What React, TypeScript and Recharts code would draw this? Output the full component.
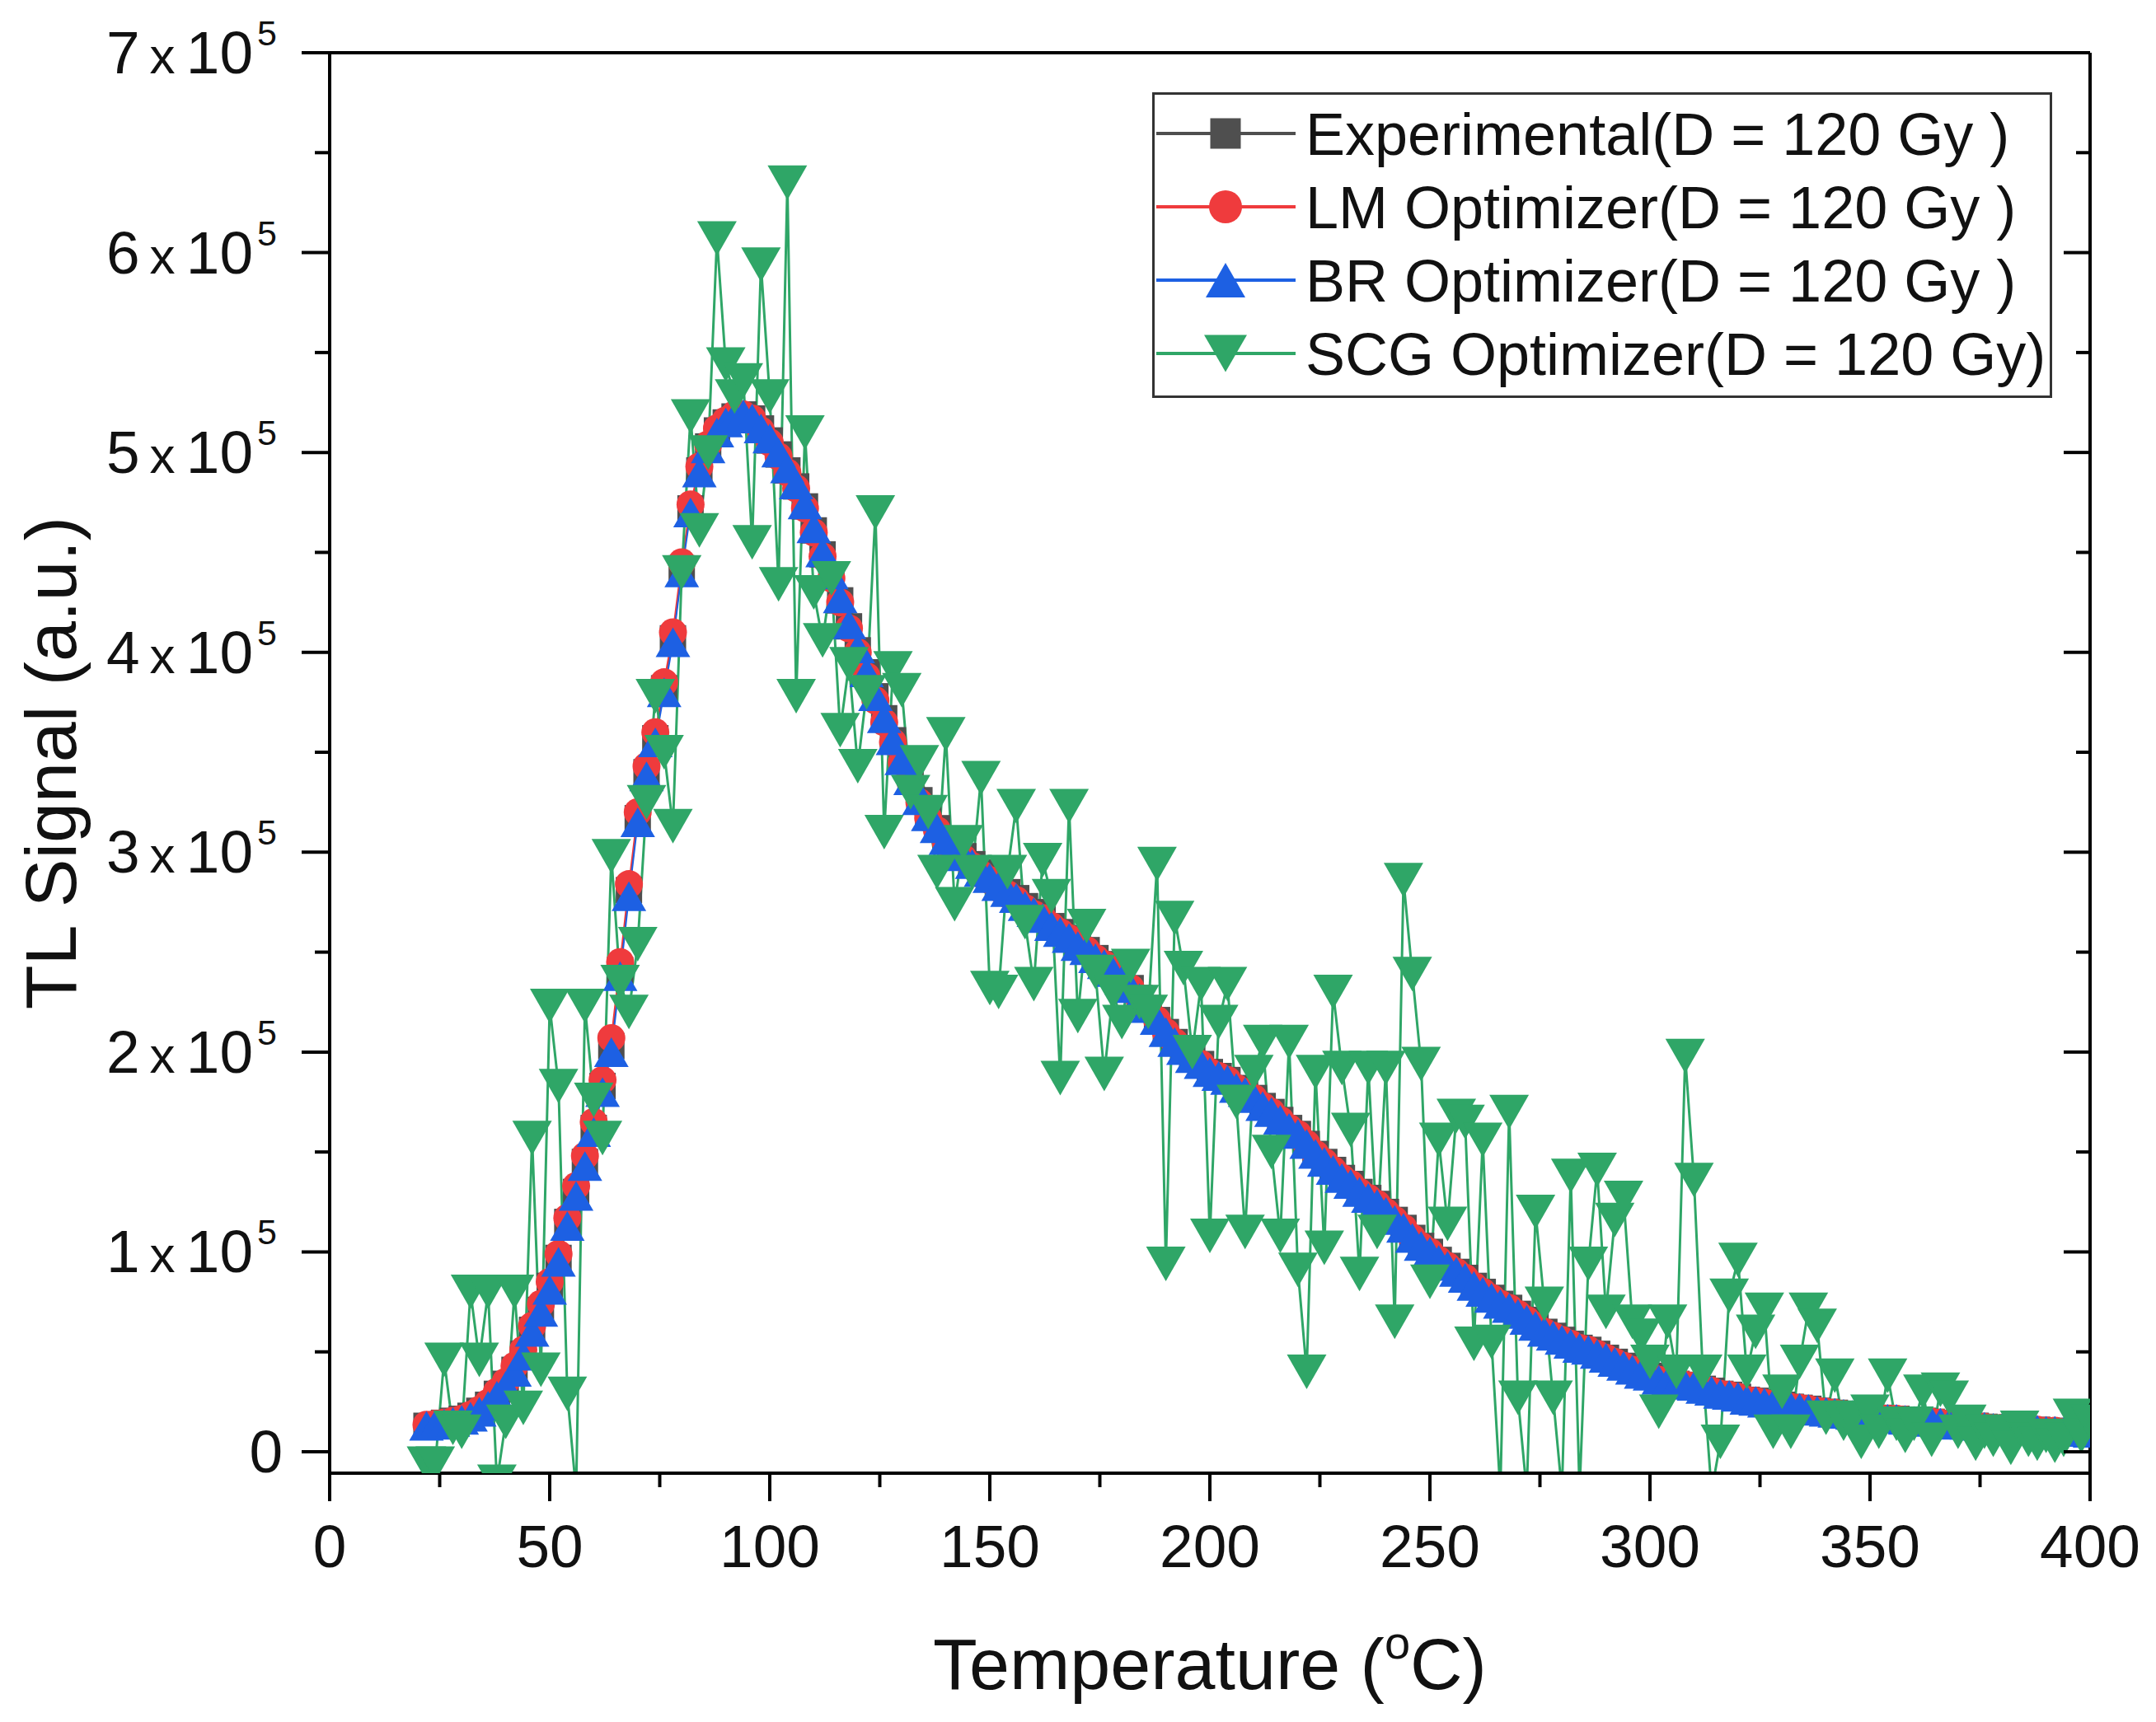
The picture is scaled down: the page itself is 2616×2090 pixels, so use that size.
import { LineChart, Line, XAxis, YAxis, Legend, Label } from "recharts"

const FONT = "'Liberation Sans', Arial, Helvetica, sans-serif"

// temperature grid (°C), shared by all four series
const temperature = [
  22, 24, 26, 28, 30, 32, 34, 36, 38, 40,
  42, 44, 46, 48, 50, 52, 54, 56, 58, 60,
  62, 64, 66, 68, 70, 72, 74, 76, 78, 80,
  82, 84, 86, 88, 90, 92, 94, 96, 98, 100,
  102, 104, 106, 108, 110, 112, 114, 116, 118, 120,
  122, 124, 126, 128, 130, 132, 134, 136, 138, 140,
  142, 144, 146, 148, 150, 152, 154, 156, 158, 160,
  162, 164, 166, 168, 170, 172, 174, 176, 178, 180,
  182, 184, 186, 188, 190, 192, 194, 196, 198, 200,
  202, 204, 206, 208, 210, 212, 214, 216, 218, 220,
  222, 224, 226, 228, 230, 232, 234, 236, 238, 240,
  242, 244, 246, 248, 250, 252, 254, 256, 258, 260,
  262, 264, 266, 268, 270, 272, 274, 276, 278, 280,
  282, 284, 286, 288, 290, 292, 294, 296, 298, 300,
  302, 304, 306, 308, 310, 312, 314, 316, 318, 320,
  322, 324, 326, 328, 330, 332, 334, 336, 338, 340,
  342, 344, 346, 348, 350, 352, 354, 356, 358, 360,
  362, 364, 366, 368, 370, 372, 374, 376, 378, 380,
  382, 384, 386, 388, 390, 392, 394, 396, 398, 400,
]

const experimental = [
  13000, 13500, 14500, 15500, 16500, 18000, 20500, 23500, 29000, 34000,
  41000, 49000, 61000, 71000, 83000, 97000, 115000, 130000, 145000, 162000,
  183000, 203000, 241000, 281000, 317000, 340000, 357000, 382000, 407000, 442000,
  472000, 491000, 503000, 511000, 515000, 518000, 519000, 517000, 512000, 506000,
  499000, 491000, 483000, 473000, 461000, 449000, 438000, 426000, 413000, 401000,
  390000, 378000, 367000, 356000, 346000, 336000, 326000, 318000, 312000, 306000,
  302000, 298000, 294000, 290000, 287000, 283000, 280000, 277000, 273000, 270000,
  267000, 263000, 260000, 257000, 253000, 251000, 247000, 244000, 240000, 236000,
  232000, 227000, 222000, 216000, 210000, 205000, 201000, 197000, 194000, 190000,
  188000, 186000, 182000, 180000, 177000, 173000, 170000, 166000, 162000, 159000,
  154000, 149000, 145000, 141000, 137000, 134000, 130000, 127000, 124000, 120000,
  116000, 112000, 107000, 103000, 100000, 96000, 93000, 90000, 87000, 83000,
  80000, 77000, 74000, 72000, 69000, 66000, 63000, 60000, 58000, 56000,
  54000, 52000, 51000, 49000, 47000, 45000, 43000, 41000, 39000, 38000,
  36000, 35000, 34000, 33500, 33000, 31500, 30500, 29000, 28500, 27500,
  26000, 25500, 24500, 24000, 23500, 22500, 22000, 21500, 20500, 20000,
  19500, 19000, 18500, 18000, 17500, 17000, 16500, 16500, 16000, 15500,
  15500, 15000, 14500, 14000, 13500, 13500, 13000, 12500, 12000, 12000,
  11500, 11500, 11000, 11000, 10500, 10500, 10000, 10000, 10000, 9500,
]

const lmOptimizer = [
  13500, 14000, 14500, 15500, 16500, 18500, 21000, 24500, 30000, 35000,
  43000, 51000, 63000, 74000, 85000, 99000, 117000, 133000, 148000, 165000,
  186000, 207000, 245000, 284000, 320000, 343000, 360000, 385000, 410000, 445000,
  474000, 493000, 504000, 512000, 516000, 519000, 519000, 517000, 511000, 505000,
  498000, 490000, 482000, 472000, 460000, 448000, 437000, 425000, 412000, 400000,
  388000, 376000, 365000, 355000, 345000, 335000, 325000, 317000, 311000, 305000,
  301000, 297000, 293000, 289000, 286000, 282000, 279000, 276000, 272000, 269000,
  267000, 263000, 260000, 257000, 253000, 251000, 247000, 244000, 240000, 236000,
  232000, 227000, 222000, 216000, 210000, 205000, 201000, 197000, 194000, 190000,
  188000, 186000, 182000, 180000, 177000, 173000, 170000, 166000, 162000, 159000,
  154000, 149000, 145000, 141000, 137000, 134000, 130000, 127000, 124000, 120000,
  116000, 112000, 107000, 103000, 100000, 96000, 93000, 90000, 87000, 83000,
  80000, 77000, 74000, 72000, 69000, 66000, 63000, 60000, 58000, 56000,
  54000, 52000, 51000, 49000, 47000, 45000, 43000, 41000, 39000, 38000,
  36000, 35000, 34000, 33500, 33000, 31500, 30500, 29000, 28500, 27500,
  26000, 25500, 24500, 24000, 23500, 22500, 22000, 21500, 20500, 20000,
  19500, 19000, 18500, 18000, 17500, 17000, 16500, 16500, 16000, 15500,
  15500, 15000, 14500, 14000, 13500, 13500, 13000, 12500, 12000, 12000,
  11500, 11500, 11000, 11000, 10500, 10500, 10000, 10000, 10000, 9500,
]

const brOptimizer = [
  13000, 13500, 14000, 15000, 16000, 17500, 20000, 23000, 28000, 33000,
  40000, 48000, 60000, 70000, 81000, 95000, 113000, 128000, 143000, 160000,
  180000, 200000, 238000, 278000, 315000, 338000, 355000, 380000, 405000, 440000,
  470000, 490000, 502000, 510000, 515000, 518000, 519000, 517000, 512000, 507000,
  500000, 492000, 484000, 474000, 462000, 450000, 439000, 427000, 414000, 402000,
  390000, 378000, 367000, 356000, 346000, 336000, 326000, 318000, 312000, 306000,
  302000, 298000, 294000, 290000, 287000, 283000, 280000, 277000, 273000, 270000,
  267000, 263000, 260000, 257000, 253000, 251000, 247000, 244000, 240000, 236000,
  232000, 227000, 222000, 216000, 210000, 205000, 201000, 197000, 194000, 190000,
  188000, 186000, 182000, 180000, 177000, 173000, 170000, 166000, 162000, 159000,
  154000, 149000, 145000, 141000, 137000, 134000, 130000, 127000, 124000, 120000,
  116000, 112000, 107000, 103000, 100000, 96000, 93000, 90000, 87000, 83000,
  80000, 77000, 74000, 72000, 69000, 66000, 63000, 60000, 58000, 56000,
  54000, 52000, 51000, 49000, 47000, 45000, 43000, 41000, 39000, 38000,
  36000, 35000, 34000, 33500, 33000, 31500, 30500, 29000, 28500, 27500,
  26000, 25500, 24500, 24000, 23500, 22500, 22000, 21500, 20500, 20000,
  19500, 19000, 18500, 18000, 17500, 17000, 16500, 16500, 16000, 15500,
  15500, 15000, 14500, 14000, 13500, 13500, 13000, 12500, 12000, 12000,
  11500, 11500, 11000, 11000, 10500, 10500, 10000, 10000, 10000, 9500,
]

const scgOptimizer = [
  -6000, -6000, 46000, 12000, 10000, 80000, 46000, 80000, -15000, 15000,
  80000, 22000, 157000, 41000, 223000, 183000, 29000, -20000, 223000, 176000,
  157000, 298000, 235000, 220000, 254000, 325000, 378000, 350000, 313000, 440000,
  518000, 461000, 500000, 607000, 544000, 528000, 536000, 455000, 594000, 528000,
  434000, 635000, 378000, 510000, 430000, 406000, 437000, 361000, 394000, 343000,
  380000, 470000, 310000, 392000, 381000, 330000, 345000, 320000, 290000, 359000,
  274000, 305000, 290000, 337000, 232000, 230000, 290000, 323000, 265000, 234000,
  296000, 278000, 187000, 323000, 218000, 263000, 240000, 189000, 230000, 215000,
  243000, 225000, 220000, 294000, 94000, 267000, 242000, 200000, 234000, 108000,
  215000, 234000, 175000, 110000, 190000, 205000, 150000, 108000, 205000, 91000,
  40000, 190000, 102000, 230000, 192000, 161000, 89000, 192000, 110000, 192000,
  65000, 286000, 239000, 194000, 85000, 156000, 114000, 168000, 165000, 54000,
  156000, 55000, -20000, 170000, 27000, -20000, 120000, 74000, 27000, -20000,
  138000, -20000, 94000, 141000, 70000, 116000, 127000, 65000, 58000, 45000,
  20000, 65000, 40000, 198000, 136000, 40000, -20000, 5000, 78000, 96000,
  40000, 60000, 71000, 10000, 30000, 10000, 45000, 71000, 63000, 17000,
  38000, 14000, 17000, 5000, 20000, 10000, 38000, 14000, 8000, 14000,
  30000, 6000, 31000, 27000, 10000, 15000, 4000, 10000, 6000, 10000,
  2000, 12000, 6000, 4000, 8000, 3000, 6000, 18000, 8000, 15000,
]

const xTicks = [0, 25, 50, 75, 100, 125, 150, 175, 200, 225, 250, 275, 300, 325, 350, 375, 400]
const yTicks = [0, 50000, 100000, 150000, 200000, 250000, 300000, 350000, 400000, 450000, 500000, 550000, 600000, 650000, 700000]

const seriesNames = [
  "Experimental(D = 120 Gy )",
  "LM Optimizer(D = 120 Gy )",
  "BR Optimizer(D = 120 Gy )",
  "SCG Optimizer(D = 120 Gy)",
]

const COLORS = {
  exp: "#4f4f4f",
  lm: "#ef3b3d",
  br: "#1d60e3",
  scg: "#2fa667",
}

const expData = temperature.map((t, i) => ({ t, v: experimental[i] }))
const lmData = temperature.map((t, i) => ({ t, v: lmOptimizer[i] }))
const brData = temperature.map((t, i) => ({ t, v: brOptimizer[i] }))
const scgData = temperature.map((t, i) => ({ t, v: scgOptimizer[i] }))

// marker shapes
function marker(shape: string, cx: number, cy: number, color: string, key?: string, big = false) {
  if (shape === "square") {
    const s = big ? 37 : 32
    return <rect key={key} x={cx - s / 2} y={cy - s / 2} width={s} height={s} fill={color} />
  }
  if (shape === "circle") {
    return <circle key={key} cx={cx} cy={cy} r={big ? 20 : 17} fill={color} />
  }
  if (shape === "up") {
    const w = big ? 48 : 42
    const h = big ? 42 : 36
    return (
      <polygon
        key={key}
        points={`${cx},${cy - h / 2} ${cx + w / 2},${cy + h / 2} ${cx - w / 2},${cy + h / 2}`}
        fill={color}
      />
    )
  }
  const w = big ? 52 : 48
  const h = big ? 45 : 42
  return (
    <polygon
      key={key}
      points={`${cx - w / 2},${cy - h / 2} ${cx + w / 2},${cy - h / 2} ${cx},${cy + h / 2}`}
      fill={color}
    />
  )
}

const dotOf = (shape: string, color: string, prefix: string) => (p: any) => {
  if (p.cx == null || p.cy == null) return <g key={`${prefix}-${p.index}`} />
  return marker(shape, p.cx, p.cy, color, `${prefix}-${p.index}`)
}

const BottomTick = (props: any) => {
  const { x, y, payload } = props
  const v = payload.value
  const major = v % 50 === 0
  return (
    <g>
      <line x1={x} x2={x} y1={y} y2={y + (major ? 34 : 17)} stroke="#000" strokeWidth={4} />
      {major && (
        <text x={x} y={y + 114} textAnchor="middle" fontSize={73} fontFamily={FONT} fill="#111">
          {v}
        </text>
      )}
    </g>
  )
}

const TopTick = (props: any) => {
  const { x, y, payload } = props
  const major = payload.value % 50 === 0
  return <line x1={x} x2={x} y1={y} y2={y + (major ? 32 : 17)} stroke="#000" strokeWidth={4} />
}

const LeftTick = (props: any) => {
  const { x, y, payload } = props
  const v = payload.value
  const major = v % 100000 === 0
  const m = v / 100000
  return (
    <g>
      <line x1={x - (major ? 34 : 18)} x2={x} y1={y} y2={y} stroke="#000" strokeWidth={4} />
      {major && v === 0 && (
        <text x={x - 57} y={y + 25} textAnchor="end" fontSize={73} fontFamily={FONT} fill="#111">
          0
        </text>
      )}
      {major && v !== 0 && (
        <g fontFamily={FONT} fill="#111">
          <text x={x - 271} y={y + 25} fontSize={73}>{m}</text>
          <text x={x - 203} y={y + 25} textAnchor="middle" fontSize={62}>x</text>
          <text x={x - 93} y={y + 25} textAnchor="end" fontSize={73}>10</text>
          <text x={x - 88} y={y - 9} fontSize={43}>5</text>
        </g>
      )}
    </g>
  )
}

const RightTick = (props: any) => {
  const { x, y, payload } = props
  const major = payload.value % 100000 === 0
  return <line x1={x - (major ? 32 : 17)} x2={x} y1={y} y2={y} stroke="#000" strokeWidth={4} />
}

const XTitle = (props: any) => {
  const vb = props.viewBox || { x: 392, y: 1780, width: 2136 }
  return (
    <text x={vb.x + vb.width / 2} y={vb.y + 262} textAnchor="middle" fontSize={88} fontFamily={FONT} fill="#111">
      Temperature (<tspan fontSize={56} dy={-37}>o</tspan>
      <tspan dy={37}>C)</tspan>
    </text>
  )
}

const YTitle = (props: any) => {
  const vb = props.viewBox || { x: 0, y: 56, height: 1724 }
  const cx = 84
  const cy = vb.y + vb.height / 2
  return (
    <text
      x={cx}
      y={cy}
      transform={`rotate(-90, ${cx}, ${cy})`}
      textAnchor="middle"
      fontSize={88}
      fontFamily={FONT}
      fill="#111"
    >
      TL Signal (a.u.)
    </text>
  )
}

const legendRows = [
  { name: seriesNames[0], color: COLORS.exp, shape: "square" },
  { name: seriesNames[1], color: COLORS.lm, shape: "circle" },
  { name: seriesNames[2], color: COLORS.br, shape: "up" },
  { name: seriesNames[3], color: COLORS.scg, shape: "down" },
]

const renderLegend = () => (
  <svg width={1092} height={371} style={{ display: "block" }}>
    <rect x={1.5} y={1.5} width={1089} height={368} fill="#fff" stroke="#333" strokeWidth={3} />
    {legendRows.map((row, i) => {
      const cy = 50 + i * 89
      return (
        <g key={row.name}>
          <line x1={5} x2={174} y1={cy} y2={cy} stroke={row.color} strokeWidth={4} />
          {marker(row.shape, 89, cy, row.color, undefined, true)}
          <text x={186} y={cy + 26} fontSize={72} fontFamily={FONT} fill="#111">
            {row.name}
          </text>
        </g>
      )
    })}
  </svg>
)

export default function App() {
  return (
    <div style={{ width: 2600, height: 2074, background: "#fff" }}>
      <LineChart width={2600} height={2074} margin={{ top: 55, right: 71, bottom: 0, left: 0 }}>
        <XAxis
          dataKey="t"
          type="number"
          domain={[0, 400]}
          allowDataOverflow
          ticks={xTicks}
          interval={0}
          height={294}
          tickSize={0}
          tickMargin={0}
          tickLine={false}
          axisLine={{ stroke: "#000", strokeWidth: 4 }}
          tick={BottomTick}
        >
          <Label content={XTitle} />
        </XAxis>
        <XAxis
          xAxisId="top"
          orientation="top"
          type="number"
          domain={[0, 400]}
          allowDataOverflow
          ticks={xTicks}
          interval={0}
          height={1}
          tickSize={0}
          tickMargin={0}
          tickLine={false}
          axisLine={{ stroke: "#000", strokeWidth: 4 }}
          tick={TopTick}
        />
        <YAxis
          type="number"
          domain={[-10700, 700000]}
          allowDataOverflow
          ticks={yTicks}
          interval={0}
          width={392}
          tickSize={0}
          tickMargin={0}
          tickLine={false}
          axisLine={{ stroke: "#000", strokeWidth: 4 }}
          tick={LeftTick}
        >
          <Label content={YTitle} />
        </YAxis>
        <YAxis
          yAxisId="right"
          orientation="right"
          type="number"
          domain={[-10700, 700000]}
          allowDataOverflow
          ticks={yTicks}
          interval={0}
          width={1}
          tickSize={0}
          tickMargin={0}
          tickLine={false}
          axisLine={{ stroke: "#000", strokeWidth: 4 }}
          tick={RightTick}
        />
        <Legend
          layout="vertical"
          align="center"
          verticalAlign="middle"
          content={renderLegend}
          wrapperStyle={{ left: 1390, top: 104, width: 1092, height: 371 }}
        />
        <Line
          data={expData}
          dataKey="v"
          name={seriesNames[0]}
          stroke={COLORS.exp}
          strokeWidth={2}
          dot={dotOf("square", COLORS.exp, "e")}
          activeDot={false}
          isAnimationActive={false}
        />
        <Line
          data={lmData}
          dataKey="v"
          name={seriesNames[1]}
          stroke={COLORS.lm}
          strokeWidth={2}
          dot={dotOf("circle", COLORS.lm, "l")}
          activeDot={false}
          isAnimationActive={false}
        />
        <Line
          data={brData}
          dataKey="v"
          name={seriesNames[2]}
          stroke={COLORS.br}
          strokeWidth={2}
          dot={dotOf("up", COLORS.br, "b")}
          activeDot={false}
          isAnimationActive={false}
        />
        <Line
          data={scgData}
          dataKey="v"
          name={seriesNames[3]}
          stroke={COLORS.scg}
          strokeWidth={3}
          dot={dotOf("down", COLORS.scg, "s")}
          activeDot={false}
          isAnimationActive={false}
        />
      </LineChart>
    </div>
  )
}
